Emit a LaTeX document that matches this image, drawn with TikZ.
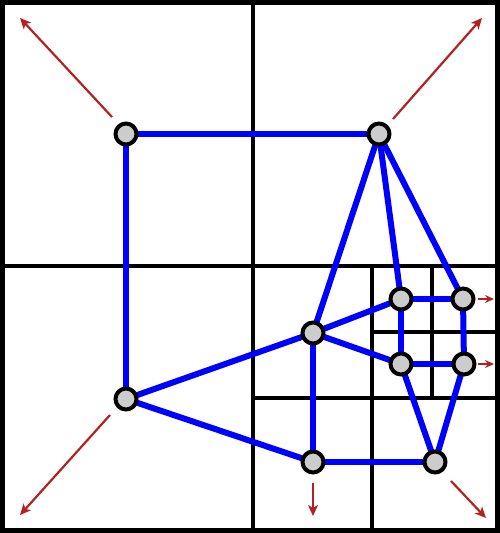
\documentclass[tikz,border=0pt]{standalone}
\usetikzlibrary{arrows.meta,backgrounds}
\definecolor{edgeblue}{RGB}{0,0,255}
\definecolor{arrred}{RGB}{178,34,34}
\definecolor{nodegray}{RGB}{204,204,204}
\tikzset{
  frame/.style={line width=5pt, draw=black},
  grid/.style={line width=3.5pt, draw=black},
  edge/.style={line width=6pt, draw=edgeblue},
  vert/.style={circle, draw=black, fill=nodegray, line width=4pt, minimum size=21pt, inner sep=0pt},
  force/.style={draw=arrred, line width=2.2pt, -{Stealth[length=11pt,width=10pt,inset=3pt]}},
  smallforce/.style={draw=arrred, line width=2pt, -{Stealth[length=9pt,width=8pt,inset=3pt]}}
}
\begin{document}
\begin{tikzpicture}[x=1pt,y=-1pt]
\useasboundingbox (0,0) rectangle (500,533);
% vertices
\node[vert] (A) at (126,134) {};
\node[vert] (B) at (379,134) {};
\node[vert] (C) at (126,399) {};
\node[vert] (D) at (313,333) {};
\node[vert] (E) at (401,299) {};
\node[vert] (F) at (463,299) {};
\node[vert] (G) at (401,364) {};
\node[vert] (H) at (464,364) {};
\node[vert] (I) at (313,462) {};
\node[vert] (J) at (435,462) {};
\begin{scope}[on background layer]
% quadtree grid
\draw[grid] (253,2.5) -- (253,530.5);
\draw[grid] (2.5,266) -- (497.5,266);
\draw[grid] (372,266) -- (372,530.5);
\draw[grid] (253,398) -- (497.5,398);
\draw[grid] (432,266) -- (432,398);
\draw[grid] (372,332) -- (497.5,332);
\draw[frame] (2.5,2.5) rectangle (497.5,530.5);
% edges
\draw[edge] (A.center) -- (B.center);
\draw[edge] (A.center) -- (C.center);
\draw[edge] (B.center) -- (D.center);
\draw[edge] (B.center) -- (E.center);
\draw[edge] (B.center) -- (F.center);
\draw[edge] (C.center) -- (D.center);
\draw[edge] (C.center) -- (I.center);
\draw[edge] (D.center) -- (E.center);
\draw[edge] (D.center) -- (G.center);
\draw[edge] (D.center) -- (I.center);
\draw[edge] (E.center) -- (F.center);
\draw[edge] (E.center) -- (G.center);
\draw[edge] (F.center) -- (H.center);
\draw[edge] (G.center) -- (H.center);
\draw[edge] (G.center) -- (J.center);
\draw[edge] (H.center) -- (J.center);
\draw[edge] (I.center) -- (J.center);
\end{scope}
% force arrows
\coordinate (a0) at (112,117); \coordinate (a1) at (20,18);
\coordinate (b0) at (393,119); \coordinate (b1) at (482,18);
\coordinate (c0) at (110,415); \coordinate (c1) at (20,515);
\coordinate (i0) at (313,483); \coordinate (i1) at (313,516);
\coordinate (j0) at (451,481); \coordinate (j1) at (486,518);
\coordinate (f0) at (478,299); \coordinate (f1) at (494,299);
\coordinate (h0) at (478,364); \coordinate (h1) at (494,364);
\draw[force] (a0) -- (a1);
\draw[force] (b0) -- (b1);
\draw[force] (c0) -- (c1);
\draw[force] (i0) -- (i1);
\draw[force] (j0) -- (j1);
\draw[smallforce] (f0) -- (f1);
\draw[smallforce] (h0) -- (h1);
\end{tikzpicture}
\end{document}
